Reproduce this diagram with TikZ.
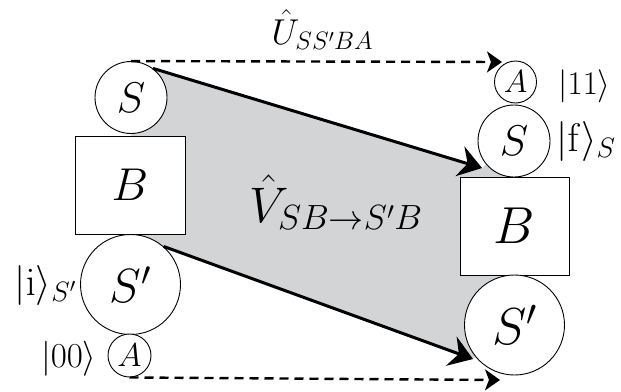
\RequirePackage{fix-cm}
\documentclass[tikz,border=0pt]{standalone}
\usetikzlibrary{arrows.meta,backgrounds}
\definecolor{bandgray}{RGB}{211,212,214}
\begin{document}
\begin{tikzpicture}[x=1pt,y=-1pt,
  circ/.style={circle,draw,line width=0.9pt,fill=white,inner sep=0pt},
  boxn/.style={rectangle,draw,line width=0.9pt,fill=white,inner sep=0pt,minimum width=110pt,minimum height=98pt},
  thickarrow/.style={line width=3pt,-{Stealth[length=23pt,width=31pt,inset=8pt]}},
  dasharrow/.style={line width=2.4pt,dash pattern=on 9pt off 6pt,-{Stealth[length=15pt,width=21pt,inset=4pt]}},
  nodefont/.style={font=\fontsize{#1}{#1}\selectfont}
]
\useasboundingbox (0,0) rectangle (621,391);
% left column
\node[circ,minimum size=72pt,nodefont=43] (SL) at (131,97.5) {$S$};
\node[boxn,nodefont=46] (BL) at (130,185) {$B$};
\node[circ,minimum size=100pt,nodefont=48] (SpL) at (130.5,284.5) {$S'$};
\node[circ,minimum size=43pt,nodefont=33] (AL) at (129.5,355.5) {$A$};
% right column
\node[circ,minimum size=42pt,nodefont=32] (AR) at (515.5,82) {$A$};
\node[circ,minimum size=72pt,nodefont=43] (SR) at (514,141) {$S$};
\node[boxn,minimum width=109pt,nodefont=52] (BR) at (514.5,226) {$B$};
\node[circ,minimum size=100pt,nodefont=52] (SpR) at (514.5,325) {$S'$};
% arrow end points
\coordinate (t1) at (482,168);
\coordinate (b1) at (473,359);
\coordinate (ta) at (502,62);
\coordinate (ba) at (500,380);
% shaded band
\begin{pgfonlayer}{background}
\fill[bandgray] (SL.53) -- (t1) -- (SR.center) -- (SpR.center) -- (b1) -- (SpL.49) -- (SpL.center) -- (SL.center) -- cycle;
\end{pgfonlayer}
% arrows
\draw[thickarrow] (SL.53) -- (t1);
\draw[thickarrow] (SpL.49) -- (b1);
\draw[dasharrow] (SL.north) -- (ta);
\draw[dasharrow] (AL.south) -- (ba);
% labels
\node[nodefont=35,anchor=base east] (l00) at (100,367) {$|00\rangle$};
\node[nodefont=40,anchor=base east] (li) at (80,295) {$|\mathrm{i}\rangle_{S'}$};
\node[nodefont=33,anchor=base west] (l11) at (555,94) {$|11\rangle$};
\node[nodefont=40,anchor=base west] (lf) at (553,151) {$|\mathrm{f}\rangle_S$};
\node[nodefont=36,anchor=base west] (U) at (268,44) {$\hat U_{SS'BA}$};
\node[nodefont=50,anchor=base west] (V) at (246,222) {$\hat V_{SB\to S'B}$};
\end{tikzpicture}
\end{document}
